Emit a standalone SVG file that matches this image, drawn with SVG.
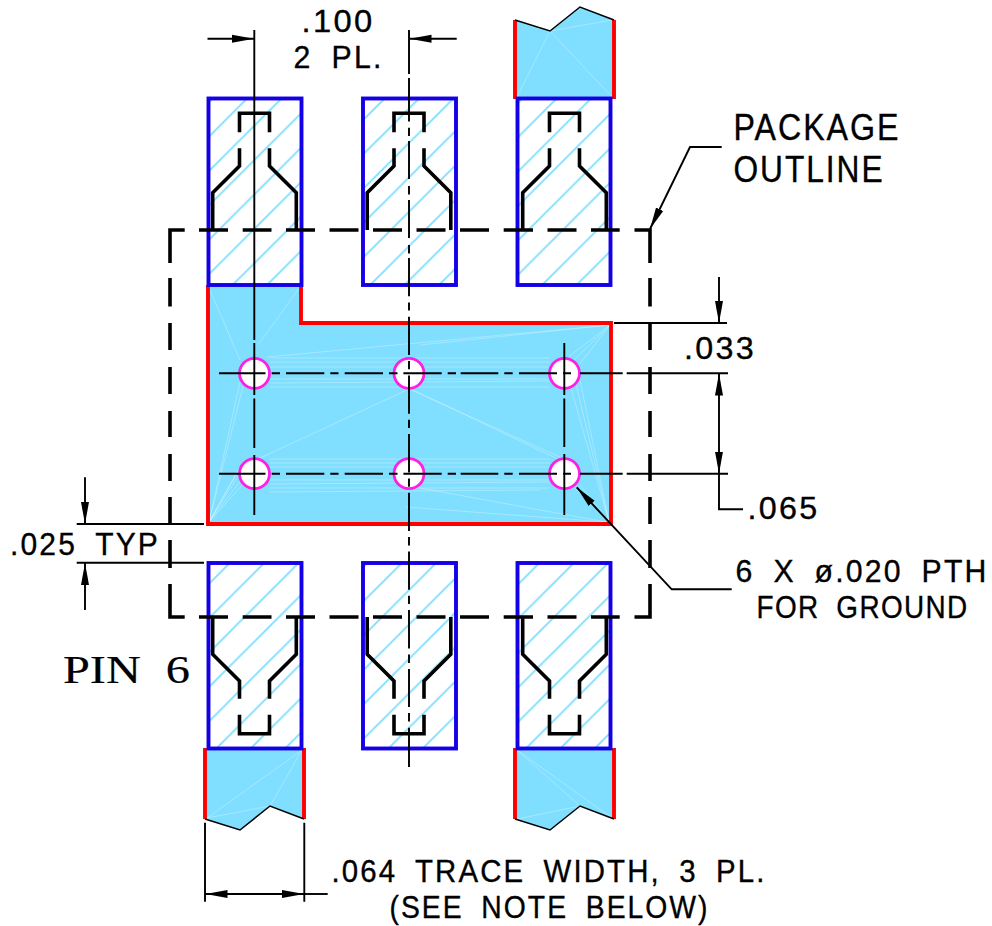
<svg xmlns="http://www.w3.org/2000/svg" width="992" height="926" viewBox="0 0 992 926">
<style>
text{font-family:"Liberation Sans",Arial,sans-serif;font-size:30.7px;fill:#000;stroke:#000;stroke-width:.35;letter-spacing:2.2px;word-spacing:8.5px}
.big{font-size:36px}
.tight{letter-spacing:1.5px}
.serif{font-family:"Liberation Serif","Times New Roman",serif;font-size:41px;stroke-width:.2;letter-spacing:0;word-spacing:11px}
.pad{stroke:#1400e6;stroke-width:3.9;fill:url(#hatch)}
.cu{fill:#80dfff;stroke:none}
.red{fill:none;stroke:#ff0000;stroke-width:3.9}
.edge{fill:none;stroke:#000;stroke-width:1.5}
.tri{fill:none;stroke:#fff;stroke-width:.9;opacity:.32}
.hole{fill:#fff;stroke:#ff1ee6;stroke-width:2.8}
.thick{fill:none;stroke:#000;stroke-width:3.6}
.thin{fill:none;stroke:#000;stroke-width:1.9}
.arr{marker-end:url(#ah)}
.arr2{marker-start:url(#ah);marker-end:url(#ah)}
</style>
<defs>
<marker id="ah" markerUnits="userSpaceOnUse" markerWidth="24" markerHeight="10" refX="22" refY="4" orient="auto-start-reverse" viewBox="0 0 24 8"><path d="M0,0L22,4L0,8Z" fill="#000"/></marker>
<pattern id="hatch" patternUnits="userSpaceOnUse" width="34.4" height="34.4" patternTransform="translate(1.6,0)"><path d="M-2,36.4L36.4,-2M-2,2L2,-2M32.4,36.4L36.4,32.4" stroke="#80dfff" stroke-width="1.9" fill="none"/></pattern>
<path id="leadT" d="M-15,132.3V113.3H15V132.3M-15,148.3V166L-41.8,192.7V230M15,148.3V166L41.8,192.7V230"/>
<path id="leadB" d="M-15,714.7V733.7H15V714.7M-15,698.7V681L-41.8,654.3V617M15,698.7V681L41.8,654.3V617"/>
</defs>

<g id="ground-plane">
<path class="cu" d="M208,285H301V323H611V524H208Z"/>
<path class="tri" d="M209,522L241,480M209,522L243,484M209,522L240,473M209,522L241,466M209,522L244,460M209,522L240,382M209,522L243,386M210,290L240,360M300,287L258,345M610,325L267,357M610,325L420,345M610,325L573,361M610,325L578,366M610,325L567,358M609,522L580,380M609,522L576,384M609,522L571,388M609,522L580,485M609,522L575,488M606,522L406,507M606,522L420,488M409,389L258,459M409,389L564,459M409,388L562,461M270,358H550M270,362H550M270,367H550M270,379H550M270,383L550,381M270,387H550M270,459H550M270,463H550M270,467H550M270,480H550M270,484L550,482M270,488H550M270,492L540,490"/>
<path class="red" d="M208,285V524H611V323H301V285"/>
<circle class="hole" cx="254.5" cy="373.3" r="15"/>
<circle class="hole" cx="409" cy="373.3" r="15"/>
<circle class="hole" cx="564.5" cy="373.3" r="15"/>
<circle class="hole" cx="254.5" cy="473.7" r="15"/>
<circle class="hole" cx="409" cy="473.7" r="15"/>
<circle class="hole" cx="564.5" cy="473.7" r="15"/>
</g>

<g id="trace-top">
<path class="cu" d="M515,20L550,31L580,7L614,20V98H515Z"/>
<path class="tri" d="M550,31L517,97M550,31L612,97M550,31L612,20"/>
<path class="red" d="M515,20V99M614,20V99"/>
<path class="edge" d="M515,20L550,31L580,7L614,20"/>
</g>
<g id="trace-bottom-left">
<path class="cu" d="M205,748H304V819L270,806L240,830L205,819Z"/>
<path class="tri" d="M302,750L207,818M302,750L270,806M207,818L270,806"/>
<path class="red" d="M205,748V819M304,748V819"/>
<path class="edge" d="M205,819L240,830L270,806L304,819"/>
</g>
<g id="trace-bottom-right">
<path class="cu" d="M515,748H614V819L580,806L550,830L515,819Z"/>
<path class="tri" d="M517,750L580,806M517,750L612,818M517,819L580,806"/>
<path class="red" d="M515,748V819M614,748V819"/>
<path class="edge" d="M515,819L550,830L580,806L614,819"/>
</g>

<g id="pad-top-1"><rect class="pad" x="208.5" y="98.5" width="93" height="186.5"/></g>
<g id="pad-top-2"><rect class="pad" x="363" y="98.5" width="93" height="186.5"/></g>
<g id="pad-top-3"><rect class="pad" x="517.5" y="98.5" width="93" height="186.5"/></g>
<g id="pad-bottom-1"><rect class="pad" x="208.5" y="563" width="93" height="185.5"/></g>
<g id="pad-bottom-2"><rect class="pad" x="363" y="563" width="93" height="185.5"/></g>
<g id="pad-bottom-3"><rect class="pad" x="517.5" y="563" width="93" height="185.5"/></g>

<g id="package-outline">
<use href="#leadT" x="254.5" class="thick"/>
<use href="#leadT" x="409" class="thick"/>
<use href="#leadT" x="564.5" class="thick"/>
<use href="#leadB" x="254.5" class="thick"/>
<use href="#leadB" x="409" class="thick"/>
<use href="#leadB" x="564.5" class="thick"/>
<path class="thick" d="M184.7,230H170V263M199,230H228M242.7,230H271.5M286,230H315M329.5,230H358.5M373,230H402M416.5,230H445.5M460,230H489M503.7,230H533M547.5,230H576.5M591,230H619.7M634.5,230H650V263M170,278V306.5M170,323V350M170,367V394M170,411V437M170,454V481M170,497V524M170,540V568M170,584V617H184.7M199,617H228M242.7,617H271.5M286,617H315M329.5,617H358.5M373,617H402M416.5,617H445.5M460,617H489M503.7,617H533M547.5,617H576.5M591,617H619.7M634.5,617H650V584M650,278V306.5M650,323V350M650,367V394M650,411V437M650,454V481M650,497V524M650,540V568"/>
</g>

<g id="connectors">
<path class="thin" d="M254.3,30V340M254.3,343V395M254.3,398.5V448M254.3,455V515M564.3,343V395M564.3,398.5V447M564.3,454V515"/>
<path class="thin" d="M409,30V74M409,78V121.5M409,127.7V136M409,141V179M409,186V194.5M409,200V238M409,245V253.5M409,258V296.3M409,302.4V310.6M409,316.7V355M409,361V369.3M409,375.4V413.7M409,419.7V428M409,434V472.4M409,478.4V486.7M409,492.8V531M409,537V545.5M409,551.5V589.8M409,595.8V604M409,610V648.5M409,654.5V663M409,669V707M409,713V721.5M409,727.7V767"/>
<path id="cl-a" class="thin" d="M219,373.3H265.5M271.7,373.3H280M286,373.3H324.3M330.3,373.3H338.5M344.7,373.3H383M389,373.3H397.5M403.4,373.3H441.7M447.7,373.3H456M460.7,373.3H498.3M504.3,373.3H512.7M519,373.3H557M563,373.3H571M580,373.3H622.7M626.7,373.3H728"/>
<path id="cl-b" class="thin" d="M219,473.7H265.5M271.7,473.7H280M286,473.7H324.3M330.3,473.7H338.5M344.7,473.7H383M389,473.7H397.5M403.4,473.7H441.7M447.7,473.7H456M460.7,473.7H498.3M504.3,473.7H512.7M519,473.7H557M563,473.7H571M580,473.7H622.7M626.7,473.7H728"/>
<path class="thin arr" d="M207.5,38.7H254"/>
<path class="thin arr" d="M456.7,38.7H409.5"/>
<path class="thin arr" d="M721.7,147H690L650,229"/>
<path class="thin" d="M614,323H727"/>
<path class="thin arr" d="M719,277V323"/>
<path class="thin arr2" d="M719,373.5V473.5"/>
<path class="thin" d="M719,473.7V509.3H743"/>
<path class="thin arr" d="M731.7,589.3H671.7L576.7,487.3"/>
<path class="thin" d="M76.7,524H204M76.7,562.7H204"/>
<path class="thin arr" d="M85,477.3V524"/>
<path class="thin arr" d="M85,610V563"/>
<path class="thin" d="M205,822.7V901.7M304.3,822.7V901.7"/>
<path class="thin arr2" d="M205.5,894H304"/>
<path class="thin" d="M304,894H327.7"/>
</g>

<g id="labels">
<text x="301.5" y="32" textLength="73" lengthAdjust="spacingAndGlyphs">.100</text>
<text x="293.5" y="68.3" textLength="90" lengthAdjust="spacingAndGlyphs">2 PL.</text>
<text class="big" x="733.5" y="140" textLength="167" lengthAdjust="spacingAndGlyphs">PACKAGE</text>
<text class="big" x="733.5" y="181.7" textLength="151" lengthAdjust="spacingAndGlyphs">OUTLINE</text>
<text x="684" y="359" textLength="72" lengthAdjust="spacingAndGlyphs">.033</text>
<text x="747.5" y="519.3" textLength="72" lengthAdjust="spacingAndGlyphs">.065</text>
<text x="735.5" y="581.7" textLength="253" lengthAdjust="spacingAndGlyphs">6 X ø.020 PTH</text>
<text class="tight" x="756.5" y="618.3" textLength="212" lengthAdjust="spacingAndGlyphs">FOR GROUND</text>
<text x="10" y="555" textLength="150" lengthAdjust="spacingAndGlyphs">.025 TYP</text>
<text class="serif" x="63" y="682.7" textLength="127" lengthAdjust="spacingAndGlyphs">PIN 6</text>
<text x="331.5" y="881.7" textLength="435" lengthAdjust="spacingAndGlyphs">.064 TRACE WIDTH, 3 PL.</text>
<text x="389.5" y="918" textLength="320" lengthAdjust="spacingAndGlyphs">(SEE NOTE BELOW)</text>
</g>
</svg>
